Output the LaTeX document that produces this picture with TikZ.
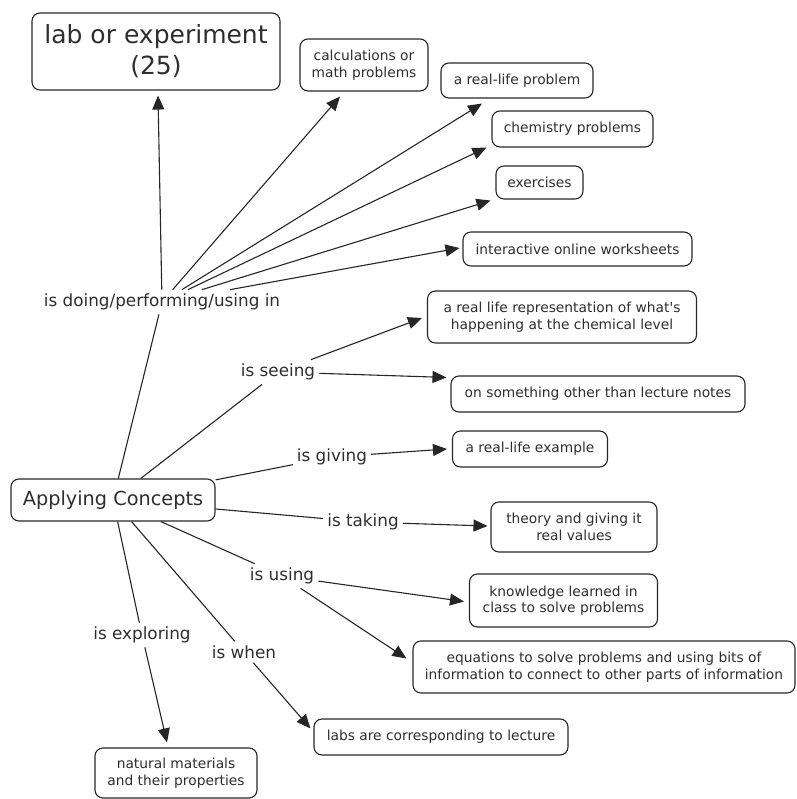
\documentclass[tikz,border=0pt]{standalone}
\usepackage{fontspec}
\setmainfont{DejaVu Sans}
% same face without the TeX quote mapping, for a straight apostrophe
\newfontfamily\straightface{DejaVu Sans}[Ligatures=ResetAll]
\usetikzlibrary{arrows.meta,calc}
\definecolor{ink}{HTML}{2E2E2E}
\definecolor{edge}{HTML}{262626}
\begin{document}
\begin{tikzpicture}[x=1pt,y=-1pt,
  concept/.style={draw=edge, line width=1.1pt, rounded corners=8pt, align=center,
    inner sep=0pt, text=ink, font=\fontsize{13.8}{16.5}\selectfont},
  linkword/.style={inner sep=4pt, text=ink, font=\fontsize{16.8}{19}\selectfont},
  link/.style={draw=edge, line width=1.1pt},
  arrowto/.style={link, -{Triangle[length=14pt,width=12pt]}},
]
\useasboundingbox (0,0) rectangle (796,799);

% concepts
\node[concept, minimum width=248pt, minimum height=77pt,
      font=\fontsize{25}{31}\selectfont] (lab) at (156,51.5) {lab or experiment\\(25)};
\node[concept, minimum width=204pt, minimum height=42pt,
      font=\fontsize{19.3}{23}\selectfont] (ac) at (113,500) {Applying Concepts};
\node[concept, minimum width=128pt, minimum height=52pt] (calc) at (364,65) {calculations or\\math problems};
\node[concept, minimum width=152pt, minimum height=35pt] (rlp) at (517,80.5) {a real-life problem};
\node[concept, minimum width=161pt, minimum height=36pt] (chem) at (572.5,129) {chemistry problems};
\node[concept, minimum width=87pt, minimum height=33pt] (exer) at (539.5,182.5) {exercises};
\node[concept, minimum width=229pt, minimum height=34pt] (iow) at (577.5,249) {interactive online worksheets};
\node[concept, minimum width=269pt, minimum height=52pt] (rep) at (562,317) {a real life representation of what{\straightface'}s\\happening at the chemical level};
\node[concept, minimum width=294pt, minimum height=36pt] (ons) at (598,394) {on something other than lecture notes};
\node[concept, minimum width=155pt, minimum height=36pt] (rle) at (530,449) {a real-life example};
\node[concept, minimum width=166pt, minimum height=50pt] (theory) at (574,527) {theory and giving it\\real values};
\node[concept, minimum width=188pt, minimum height=53pt] (know) at (563.5,600.5) {knowledge learned in\\class to solve problems};
\node[concept, minimum width=382pt, minimum height=52pt] (eq) at (604,667) {equations to solve problems and using bits of\\information to connect to other parts of information};
\node[concept, minimum width=254pt, minimum height=36pt] (labs) at (441,737) {labs are corresponding to lecture};
\node[concept, minimum width=162pt, minimum height=50pt] (nat) at (176,773) {natural materials\\and their properties};

% linking phrases
\node[linkword] (doing) at (162,302) {is doing/performing/using in};
\node[linkword] (seeing) at (278,372) {is seeing};
\node[linkword] (giving) at (332,457) {is giving};
\node[linkword] (taking) at (363,522) {is taking};
\node[linkword] (using) at (282,576) {is using};
\node[linkword] (exploring) at (142,635) {is exploring};
\node[linkword] (when) at (244,652) {is when};

% from the central concept to its linking phrases
\foreach \w in {doing,seeing,giving,taking,using,exploring,when}
  \draw[link] (ac) -- (\w);

% from the linking phrases to the concepts
\draw[arrowto] (doing) -- ($(lab.south)+(2,5)$);
\draw[arrowto] (doing) -- ($(calc.south)+(-24,5)$);
\draw[arrowto] (doing) -- ($(rlp.south)+(-35,5)$);
\draw[arrowto] (doing) -- ($(chem.south west)+(-5,0)$);
\draw[arrowto] (doing) -- ($(exer.south west)+(-5,1)$);
\draw[arrowto] (doing) -- ($(iow.west)+(-3,-1)$);

\draw[arrowto] (seeing) -- ($(rep.west)+(-5,1)$);
\draw[arrowto] (seeing) -- ($(ons.north west)+(-4,2)$);
\draw[arrowto] (giving) -- ($(rle.west)+(-5,0)$);
\draw[arrowto] (taking) -- ($(theory.west)+(-3,-1)$);
\draw[arrowto] (using) -- ($(know.west)+(-5,1)$);
\draw[arrowto] (using) -- ($(eq.north west)+(-6,18)$);
\draw[arrowto] (exploring) -- ($(nat.north)+(-9,-5)$);
\draw[arrowto] (when) -- ($(labs.north west)+(-3,10)$);
\end{tikzpicture}
\end{document}
